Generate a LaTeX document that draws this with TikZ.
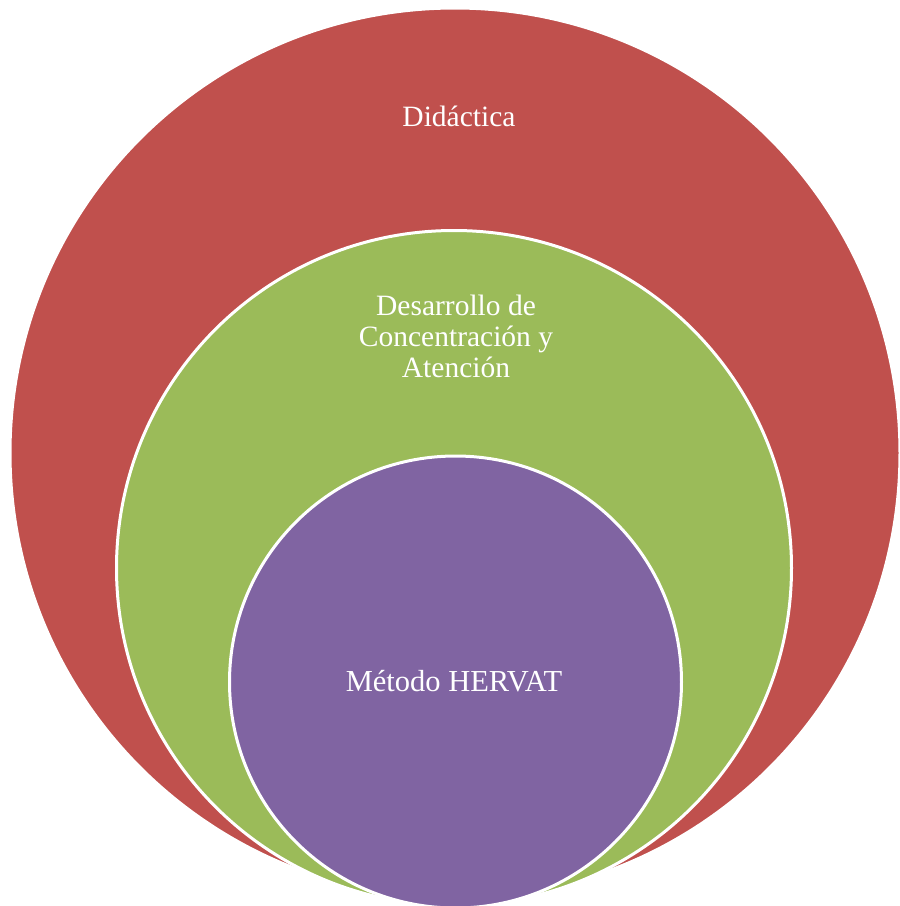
\documentclass[tikz,border=0pt]{standalone}
\usepackage{fontspec}
\setmainfont{Liberation Serif}
\definecolor{cred}{HTML}{C0504D}
\definecolor{cgreen}{HTML}{9BBB59}
\definecolor{cpurple}{HTML}{8064A2}
\begin{document}
\begin{tikzpicture}[x=1pt,y=-1pt,
  ring/.style={circle, inner sep=0pt, outer sep=0pt, draw=white, line width=3pt},
  lbl/.style={text=white, align=center, inner sep=0pt, font=\fontsize{29.5}{31}\selectfont}]
\useasboundingbox (0,0) rectangle (900,906);
\node[ring, fill=cred, minimum size=890pt] (red) at (455,453) {};
\node[ring, fill=cgreen, minimum size=675pt] (green) at (454,568) {};
\node[ring, fill=cpurple, minimum size=452pt] (purple) at (455.5,682) {};
\node[lbl] (t1) at (459,116) {Didáctica};
\node[lbl] (t2) at (456,336) {Desarrollo de\\Concentración y\\Atención};
\node[lbl, font=\fontsize{30.5}{32}\selectfont] (t3) at (454,681) {Método HERVAT};
\end{tikzpicture}
\end{document}
